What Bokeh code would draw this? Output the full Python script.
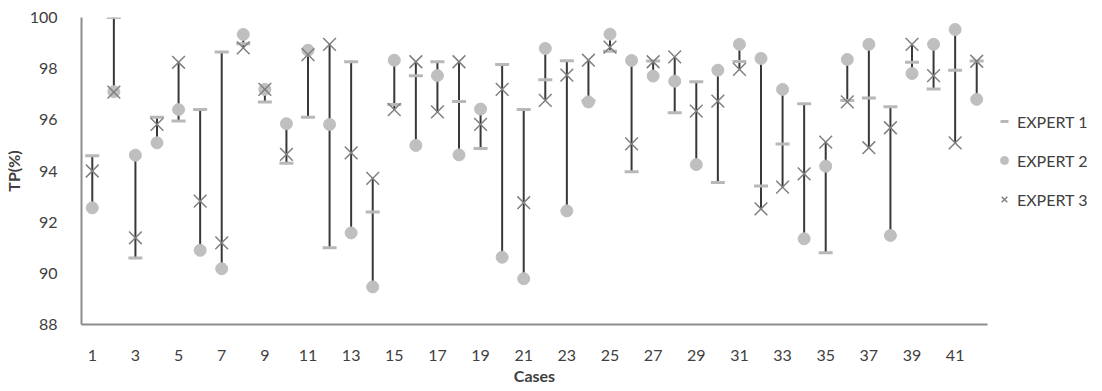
from bokeh.plotting import figure
from bokeh.models import ColumnDataSource, Range1d, FixedTicker, Legend, LegendItem
from bokeh.embed import file_html
from bokeh.resources import INLINE

cases = list(range(1, 43))
expert1 = [94.6, 100.0, 90.6, 96.1, 95.95, 96.4, 98.65, 98.97, 96.7, 94.3,
           96.1, 91.0, 98.27, 92.4, 96.6, 97.72, 98.27, 96.72, 94.88, 98.16,
           96.4, 97.57, 98.31, 96.75, 98.68, 93.97, 98.3, 96.28, 97.49, 93.55,
           98.28, 93.41, 95.06, 96.63, 90.8, 96.76, 96.85, 96.51, 98.25, 97.21,
           97.94, 98.3]
expert2 = [92.56, 97.1, 94.62, 95.1, 96.4, 90.9, 90.18, 99.34, 97.19, 95.85,
           98.72, 95.82, 91.58, 89.47, 98.33, 95.0, 97.73, 94.63, 96.42, 90.63,
           89.79, 98.79, 92.44, 96.7, 99.35, 98.32, 97.71, 97.51, 94.25, 97.94,
           98.95, 98.4, 97.19, 91.35, 94.19, 98.36, 98.95, 91.48, 97.81, 98.95,
           99.53, 96.8]
expert3 = [94.0, 97.08, 91.39, 95.82, 98.25, 92.82, 91.19, 98.81, 97.19, 94.65,
           98.55, 98.95, 94.71, 93.71, 96.4, 98.27, 96.31, 98.27, 95.82, 97.19,
           92.76, 96.76, 97.75, 98.33, 98.84, 95.06, 98.27, 98.46, 96.34, 96.73,
           97.97, 92.52, 93.37, 93.89, 95.13, 96.7, 94.91, 95.69, 98.95, 97.73,
           95.1, 98.29]
x_ticks = list(range(1, 42, 2))
y_ticks = [88, 90, 92, 94, 96, 98, 100]

lo = [min(a, b, c) for a, b, c in zip(expert1, expert2, expert3)]
hi = [max(a, b, c) for a, b, c in zip(expert1, expert2, expert3)]

src = ColumnDataSource(dict(x=cases, e1=expert1, e2=expert2, e3=expert3, lo=lo, hi=hi))

FONT = "Lato"
TXT = "#404040"

p = figure(frame_width=906, frame_height=307, output_backend="svg", toolbar_location=None,
           x_range=Range1d(0.5, 42.5), y_range=Range1d(88, 100),
           min_border_left=73, min_border_right=107, min_border_top=17, min_border_bottom=59)
p.outline_line_color = None
p.xgrid.visible = False
p.ygrid.visible = False

p.segment(x0="x", y0="lo", x1="x", y1="hi", source=src, line_color="#383838", line_width=2)
r1 = p.scatter(x="x", y="e1", source=src, marker="dash", size=14, line_color="#b8b8b8", line_width=3)
r2 = p.scatter(x="x", y="e2", source=src, marker="circle", size=12, fill_color="#bfbfbf", line_color="#bfbfbf")
r3 = p.scatter(x="x", y="e3", source=src, marker="x", size=18, line_color="#808080", line_width=1.5)

for ax in (p.xaxis[0], p.yaxis[0]):
    ax.axis_line_color = "#8c8c8c"
    ax.axis_line_width = 2
    ax.major_tick_line_color = None
    ax.minor_tick_line_color = None
    ax.major_label_text_font = FONT
    ax.major_label_text_font_size = "16px"
    ax.major_label_text_color = TXT
    ax.axis_label_text_font = FONT
    ax.axis_label_text_font_size = "16px"
    ax.axis_label_text_font_style = "bold"
    ax.axis_label_text_color = TXT

p.xaxis.ticker = FixedTicker(ticks=x_ticks)
p.yaxis.ticker = FixedTicker(ticks=y_ticks)
p.xaxis.axis_label = "Cases"
p.yaxis.axis_label = "TP(%)"
p.xaxis.major_label_standoff = 19
p.yaxis.major_label_standoff = 18
p.xaxis.axis_label_standoff = 2
p.yaxis.axis_label_standoff = 4

legend = Legend(items=[LegendItem(label="EXPERT 1", renderers=[r1]),
                       LegendItem(label="EXPERT 2", renderers=[r2]),
                       LegendItem(label="EXPERT 3", renderers=[r3])],
                location=(7, 115))
legend.label_text_font = FONT
legend.label_text_font_size = "16px"
legend.label_text_color = TXT
legend.border_line_color = None
legend.background_fill_alpha = 0
legend.padding = 0
legend.margin = 0
legend.spacing = 19
legend.glyph_width = 20
legend.glyph_height = 20
legend.label_height = 20
legend.label_standoff = 3
p.add_layout(legend, "right")

open("out.html", "w").write(file_html(p, INLINE))
